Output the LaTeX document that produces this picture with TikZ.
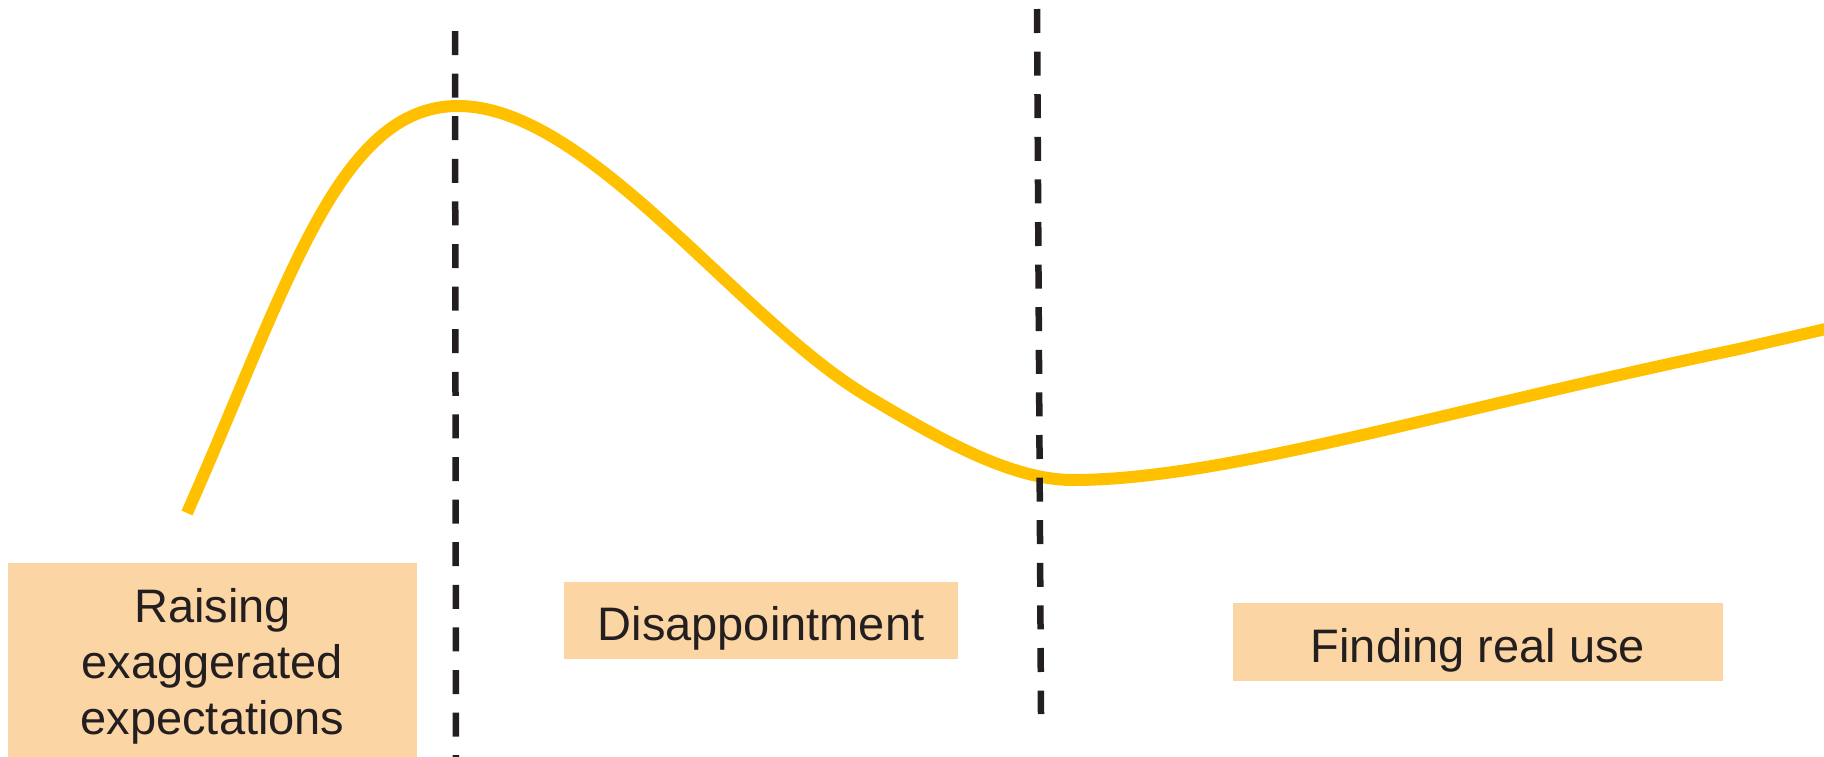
\documentclass[tikz,border=0pt]{standalone}
\usepackage{fontspec}
\setmainfont{Liberation Sans}
\usetikzlibrary{positioning}
\definecolor{hypeGold}{HTML}{FFC000}
\definecolor{hypeInk}{HTML}{231F20}
\definecolor{hypePeach}{HTML}{FCD5A4}

\begin{document}
\begin{tikzpicture}[x=1pt,y=-1pt,line join=round]
\useasboundingbox (0,0) rectangle (1824,756);
\clip (0,0) rectangle (1824,756);
\tikzset{phase/.style={fill=hypePeach,text=hypeInk,font=\fontsize{47}{56}\selectfont,inner sep=0pt,text height=40pt,text depth=0pt},divider/.style={draw=hypeInk,line width=6.5pt,dash pattern=on 24pt off 18.6pt},hype/.style={draw=hypeGold,line width=12pt}}
% phase labels
\node[phase,minimum width=409pt,minimum height=210pt,align=center,text height=152pt,text depth=20pt] (raise) at (212.5,668) {Raising\\exaggerated\\expectations};
\node[phase,minimum width=394pt,minimum height=77pt] (dip) at (761,620.5) {Disappointment};
\node[phase,minimum width=490pt,minimum height=78pt] (realuse) at (1478,642) {Finding real use};
% hype curve
\draw[hype] (187,513) .. controls (288,285) and (338,106) .. (458,106)
  .. controls (588,106) and (738,319) .. (867,396)
  .. controls (944,442) and (1013,480) .. (1073,480)
  .. controls (1223,480) and (1445,410) .. (1739,349) -- (1830,328);
% phase borders
\draw[divider] (455,31) -- (456,760);
\draw[divider] (1037,9) -- (1041,714);
\end{tikzpicture}
\end{document}
